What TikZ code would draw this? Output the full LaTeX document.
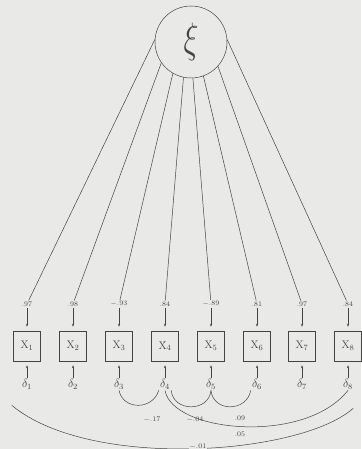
\documentclass[tikz,border=0pt]{standalone}
\usetikzlibrary{arrows.meta}
\definecolor{paper}{RGB}{233,233,231}
\definecolor{ink}{RGB}{68,68,68}

\begin{document}
\begin{tikzpicture}[x=1pt, y=-1pt, ink, line width=0.5pt,
    factor/.style ={circle, draw, minimum size=72pt, inner sep=0pt},
    indicator/.style ={rectangle, draw, minimum width=27pt, minimum height=30pt, inner sep=0pt, font=\fontsize{11}{11}\selectfont},
    loading/.style ={inner sep=1pt, font=\fontsize{7.5}{8}\selectfont},
    residual/.style ={inner sep=1pt, font=\fontsize{11.5}{12}\selectfont},
    arrowline/.style ={-{Stealth[length=3pt,width=2.2pt]}, shorten >=4pt},
    corr/.style ={inner sep=1pt, font=\fontsize{7.5}{8}\selectfont}]
   \useasboundingbox (0,0) rectangle (361,449);
   \fill[paper] (0,0) rectangle (361,449);

   \node[factor] (xi) at (191,42) {\scalebox{1.25}[1.7]{\fontsize{24.88}{25}\selectfont$\xi$}};

   \node[loading] (l1) at (27,304)  {$.97$};
   \node[loading] (l2) at (73,304)  {$.98$};
   \node[loading] (l3) at (119,304) {$-.93$};
   \node[loading] (l4) at (165,304) {$.84$};
   \node[loading] (l5) at (211,304) {$-.89$};
   \node[loading] (l6) at (257,304) {$.81$};
   \node[loading] (l7) at (302,304) {$.97$};
   \node[loading] (l8) at (348,304) {$.84$};

   \node[indicator] (x1) at (27,346)  {X$_1$};
   \node[indicator] (x2) at (73,346)  {X$_2$};
   \node[indicator] (x3) at (119,346) {X$_3$};
   \node[indicator] (x4) at (165,346) {\'X$_4$};
   \node[indicator] (x5) at (211,346) {X$_5$};
   \node[indicator] (x6) at (257,346) {X$_6$};
   \node[indicator] (x7) at (302,346) {X$_7$};
   \node[indicator] (x8) at (348,346) {X$_8$};

   \node[residual] (d1) at (27,384)  {$\delta_1$};
   \node[residual] (d2) at (73,384)  {$\delta_2$};
   \node[residual] (d3) at (119,384) {$\delta_3$};
   \node[residual] (d4) at (165,384) {$\delta_4$};
   \node[residual] (d5) at (211,384) {$\delta_5$};
   \node[residual] (d6) at (257,384) {$\delta_6$};
   \node[residual] (d7) at (302,384) {$\delta_7$};
   \node[residual] (d8) at (348,384) {$\delta_8$};

   % factor to loadings
   \draw (xi.176) -- (l1);
   \draw (xi.215) -- (l2);
   \draw (xi.240) -- (l3);
   \draw (xi.258) -- (l4);
   \draw (xi.273) -- (l5);
   \draw (xi.290) -- (l6);
   \draw (xi.318) -- (l7);
   \draw (xi.4) -- (l8);

   \draw[arrowline] (l1) -- (x1);
   \draw[arrowline] (l2) -- (x2);
   \draw[arrowline] (l3) -- (x3);
   \draw[arrowline] (l4) -- (x4);
   \draw[arrowline] (l5) -- (x5);
   \draw[arrowline] (l6) -- (x6);
   \draw[arrowline] (l7) -- (x7);
   \draw[arrowline] (l8) -- (x8);

   \draw[arrowline] (d1) -- (x1);
   \draw[arrowline] (d2) -- (x2);
   \draw[arrowline] (d3) -- (x3);
   \draw[arrowline] (d4) -- (x4);
   \draw[arrowline] (d5) -- (x5);
   \draw[arrowline] (d6) -- (x6);
   \draw[arrowline] (d7) -- (x7);
   \draw[arrowline] (d8) -- (x8);

   % correlated errors
   \draw (d3.south) .. controls +(4,20) and +(-6,20) .. (d4.south west);
   \draw (d4.south east) .. controls +(2,22) and +(-2,22) .. (d5.south);
   \draw (d5.south) .. controls +(2,22) and +(-4,22) .. (d6.south west);
   \draw (d4.south) .. controls +(7,42) and +(-43,55) .. (d8.south);
   \draw ([shift={(-9,15)}]d1.south west) .. controls +(78,65) and +(-53,47) .. ([shift={(-1,18)}]d8.south east);

   \node[corr] (r34) at (152,420) {$-.17$};
   \node[corr] (r45) at (195,420) {$-.04$};
   \node[corr] (r56) at (240,418) {$.09$};
   \node[corr] (r48) at (240,434) {$.05$};
   \node[corr, fill=paper] (r18) at (198,447) {$-.01$};
\end{tikzpicture}
\end{document}
